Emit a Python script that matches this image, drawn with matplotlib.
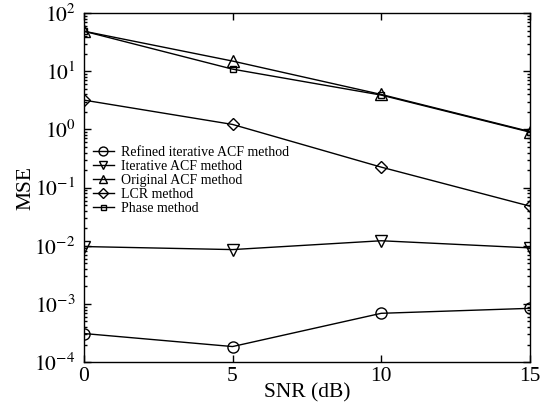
import matplotlib
matplotlib.use('Agg')
import matplotlib.pyplot as plt
from matplotlib.ticker import NullFormatter, FixedLocator

plt.rcParams['font.family'] = ['Liberation Serif', 'DejaVu Serif']
plt.rcParams['mathtext.fontset'] = 'stix'

snr = [0, 5, 10, 15]
refined_acf = [3.1e-4, 1.85e-4, 6.9e-4, 8.4e-4]
iterative_acf = [0.0097, 0.0086, 0.0122, 0.0092]
original_acf = [49, 15, 4.0, 0.92]
lcr = [3.2, 1.22, 0.225, 0.048]
phase = [49, 10.9, 3.9, 0.9]

labels = ['Refined iterative ACF method', 'Iterative ACF method',
          'Original ACF method', 'LCR method', 'Phase method']
decades = [-4, -3, -2, -1, 0, 1, 2]


def plotting_graph():
    fig = plt.figure(figsize=(5.48, 4.11), dpi=100)
    ax = fig.add_axes([0.153, 0.119, 0.814, 0.849])

    style = dict(color='black', lw=1.0, mfc='none', mec='black', mew=1.0)
    ax.semilogy(snr, refined_acf, marker='o', ms=8, label=labels[0], **style)
    ax.semilogy(snr, iterative_acf, marker='v', ms=8, label=labels[1], **style)
    ax.semilogy(snr, original_acf, marker='^', ms=8, label=labels[2], **style)
    ax.semilogy(snr, lcr, marker='D', ms=6, label=labels[3], **style)
    ax.semilogy(snr, phase, marker='s', ms=4.5, label=labels[4], **style)

    ax.set_xlim(0, 15)
    ax.set_ylim(1e-4, 1e2)
    ax.set_xticks([0, 5, 10, 15])
    ax.set_yticks([10.0 ** d for d in decades])
    ax.set_yticklabels(['$10^{%d}$' % d for d in decades])
    minors = [m * 10.0 ** d for d in decades[:-1] for m in range(2, 10)]
    ax.yaxis.set_minor_locator(FixedLocator(minors))
    ax.yaxis.set_minor_formatter(NullFormatter())
    ax.tick_params(which='both', direction='in', top=True, right=True,
                   labelsize=15.5, width=1.0)
    ax.tick_params(which='major', length=5)
    ax.tick_params(which='minor', length=2.5)
    ax.tick_params(axis='y', which='major', pad=6)
    for s in ax.spines.values():
        s.set_linewidth(1.0)

    ax.set_xlabel('SNR (dB)', fontsize=15.5, labelpad=-2)
    ax.set_ylabel('MSE', fontsize=15.5, labelpad=-1)

    ax.legend(loc='upper left', bbox_to_anchor=(0.02, 0.62),
              frameon=False, fontsize=10, handlelength=1.5,
              handletextpad=0.5, labelspacing=0.08, borderaxespad=0,
              borderpad=0, markerscale=0.8)

    fig.savefig('out.png', dpi=100)


if __name__ == '__main__':
    plotting_graph()
